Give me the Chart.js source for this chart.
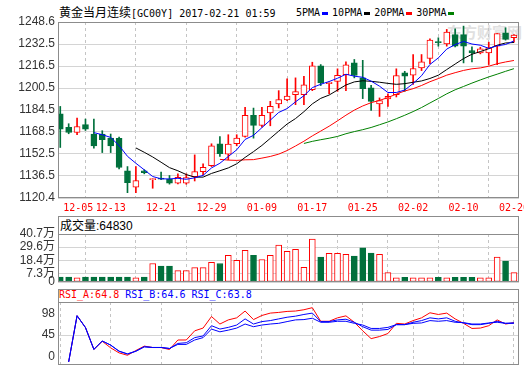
<!DOCTYPE html>
<html>
<head>
<meta charset="utf-8">
<script src="https://cdn.jsdelivr.net/npm/chart.js@4.4.1/dist/chart.umd.min.js"></script>
<style>
  body { margin: 0; background: #fff; }
  #wrap { position: relative; width: 524px; height: 369px; overflow: hidden; font-family: 'DejaVu Sans Mono', monospace; }
  canvas { position: absolute; left: 0; }
  .txt { position: absolute; white-space: nowrap; font-size: 10px; line-height: 14px; color: #000; }
  .cjk { font-family: 'Noto Sans CJK SC', sans-serif; font-size: 12px; }
  .mk { display: inline-block; width: 6px; height: 3px; margin: 0 4px 0 2px; vertical-align: middle; }
  .box { position: absolute; left: 58px; width: 461px; border: 1px solid #8c8c8c; border-bottom: none; box-sizing: border-box; }
  #wm { position: absolute; left: 447px; top: 21px; font: bold 15px 'Noto Sans CJK SC', sans-serif; color: #e0e0e0; }
</style>
</head>
<body>
<div id="wrap">
  <div id="wm">东方财富网</div>
  <div class="txt" style="left:59px;top:5px"><span class="cjk">黄金当月连续</span>[GC00Y] 2017-02-21 01:59</div>
  <div class="txt" style="left:296px;top:6px">5PMA<span class="mk" style="background:#0000ff"></span>10PMA<span class="mk" style="background:#000"></span>20PMA<span class="mk" style="background:#ff0000"></span>30PMA<span class="mk" style="background:#008000"></span></div>

  <div class="box" style="top:216px;height:19px"></div>
  <div class="txt" style="left:60px;top:218px;line-height:14px"><span class="cjk">成交量</span><span style="font:12px 'Liberation Sans',sans-serif">:64830</span></div>

  <div class="box" style="top:289px;height:14px"></div>
  <div class="txt" style="left:59px;top:289px;line-height:12px"><span style="color:#ff0000">RSI_A:64.8</span> <span style="color:#0000ff">RSI_B:64.6</span> <span style="color:#0000ff">RSI_C:63.8</span></div>

  <canvas id="main" width="524" height="214" style="top:14px"></canvas>
  <canvas id="vol" width="524" height="64" style="top:226px"></canvas>
  <canvas id="rsi" width="524" height="75" style="top:294px"></canvas>
</div>

<script>
// trading days shown on the chart
const dates = ['12-05','12-06','12-07','12-08','12-09','12-12','12-13','12-14','12-15','12-16',
  '12-19','12-20','12-21','12-22','12-23','12-26','12-27','12-28','12-29','12-30',
  '01-03','01-04','01-05','01-06','01-09','01-10','01-11','01-12','01-13','01-16',
  '01-17','01-18','01-19','01-20','01-23','01-24','01-25','01-26','01-27','01-30',
  '01-31','02-01','02-02','02-03','02-06','02-07','02-08','02-09','02-10','02-13',
  '02-14','02-15','02-16','02-17','02-20'];

const openP = [1181.8, 1171.8, 1168.1, 1173.8, 1167.0, 1167.0, 1164.0, 1163.8, 1140.2, 1128.2,
  1140.2, 1133.8, 1135.0, 1134.1, 1131.2, 1131.2, 1136.0, 1139.6, 1144.0, 1159.9,
  1152.4, 1159.9, 1165.2, 1180.6, 1173.3, 1182.3, 1188.9, 1191.8, 1195.7, 1195.7,
  1199.3, 1216.6, 1203.7, 1205.4, 1210.3, 1218.8, 1207.9, 1200.6, 1188.9, 1192.5,
  1195.7, 1211.5, 1209.8, 1215.2, 1222.0, 1234.4, 1232.7, 1239.4, 1239.4, 1227.8,
  1226.1, 1226.1, 1231.0, 1240.8, 1237.1];
const highP = [1187.1, 1174.5, 1178.7, 1177.9, 1177.9, 1169.4, 1167.0, 1164.8, 1143.3, 1143.3,
  1141.0, 1134.5, 1139.2, 1136.8, 1138.0, 1138.0, 1151.8, 1145.3, 1159.9, 1165.2,
  1166.5, 1166.5, 1186.4, 1185.9, 1186.4, 1190.8, 1198.6, 1207.2, 1207.9, 1209.1,
  1219.3, 1217.6, 1205.0, 1214.5, 1219.6, 1221.3, 1220.7, 1202.5, 1193.3, 1196.2,
  1214.5, 1212.7, 1224.9, 1224.9, 1236.4, 1237.1, 1243.2, 1243.7, 1245.6, 1230.5,
  1230.2, 1233.9, 1240.2, 1244.4, 1239.5];
const lowP = [1157.2, 1167.2, 1166.5, 1169.6, 1156.7, 1153.5, 1153.5, 1141.5, 1124.3, 1124.3,
  1138.0, 1127.5, 1133.7, 1130.5, 1130.7, 1130.4, 1132.8, 1137.2, 1143.3, 1150.6,
  1148.2, 1158.4, 1164.8, 1164.0, 1172.0, 1173.0, 1186.0, 1191.3, 1188.4, 1188.4,
  1198.6, 1202.3, 1196.4, 1198.1, 1198.6, 1207.9, 1192.8, 1184.2, 1179.8, 1187.1,
  1194.0, 1198.1, 1203.2, 1213.2, 1218.3, 1231.0, 1231.0, 1230.5, 1218.8, 1219.6,
  1225.4, 1217.6, 1217.6, 1235.4, 1233.9];
const closeP = [1170.6, 1168.1, 1172.5, 1170.6, 1158.4, 1162.8, 1158.4, 1142.6, 1131.6, 1133.1,
  1138.9, 1134.1, 1134.1, 1131.2, 1135.5, 1135.2, 1139.6, 1142.8, 1158.4, 1152.6,
  1159.7, 1164.0, 1180.6, 1173.3, 1180.6, 1187.1, 1192.0, 1194.7, 1197.9, 1202.8,
  1216.6, 1204.2, 1204.7, 1209.8, 1217.4, 1209.6, 1200.1, 1190.8, 1191.3, 1194.4,
  1209.6, 1209.1, 1214.7, 1219.6, 1235.4, 1233.5, 1241.2, 1231.0, 1231.0, 1226.1,
  1229.1, 1229.8, 1240.2, 1235.9, 1239.0];

// volume in 万
const volume = [4.1, 4.1, 3.6, 4.1, 4.1, 4.1, 4.1, 4.1, 4.1, 3.6,
  4.1, 15.7, 13.4, 13.4, 9.7, 9.7, 12.2, 12.2, 16.6, 15.7,
  22.6, 18.3, 26.9, 22.6, 19.1, 22.6, 31.2, 26.0, 27.8, 12.5,
  36.4, 21.1, 24.3, 24.3, 23.4, 22.0, 28.9, 24.6, 23.4, 7.9,
  3.6, 3.9, 3.6, 3.6, 3.6, 3.9, 3.6, 3.9, 3.9, 3.9,
  3.6, 3.6, 21.1, 17.7, 8.0];

const rsiA = [null, 2, 76, 57, 22, 35, 24.5, 16.4, 12.6, 20.2,
  27.3, 25, 25, 21.8, 37.1, 37.1, 51.8, 56.2, 74.7, 62.7,
  69.3, 72.6, 83.5, 69.8, 76.4, 80.2, 81.3, 82.9, 83.5, 85.6,
  88.9, 67.1, 67.1, 72.6, 75.8, 65.5, 51.8, 39.3, 42.6, 47.5,
  63.8, 62.7, 68.2, 72.6, 80.7, 78, 80.2, 70.9, 63.8, 55.6,
  56.2, 60, 69.3, 62.7, 64.8];
const rsiB = [null, 2, 76, 57, 22, 35.5, 28.9, 19.1, 14.7, 19.1,
  26.2, 25.1, 25.1, 23.5, 31.6, 32.7, 40.9, 43.6, 60, 54.6,
  57.3, 61.1, 70.9, 62.7, 66.6, 68.2, 70.9, 73.6, 75.3, 78,
  80.2, 66.6, 66.6, 69.3, 70.4, 65.5, 58.4, 52.9, 52.9, 54,
  61.7, 61.7, 65.5, 68.2, 72.6, 70.9, 72.6, 67.1, 64.4, 61.7,
  61.7, 63.8, 67.1, 63.8, 64.6];
const rsiC = [null, 2, 76, 57, 22, 35.5, 28.9, 19.1, 14.7, 19.1,
  26.2, 25.1, 25.1, 23.5, 30, 30, 37.1, 40.9, 54.6, 50.2,
  52.9, 56.2, 62.7, 58.4, 61.1, 62.7, 63.8, 66.6, 69.3, 69.8,
  72, 65.5, 65.5, 67.1, 67.1, 63.8, 61.1, 55.6, 55.6, 57.3,
  61.7, 61.7, 63.8, 64.4, 68.2, 67.1, 68.2, 65.5, 64.9, 62.7,
  62.7, 64.4, 65.5, 63.8, 63.8];

const priceTicks = [1120.4, 1136.5, 1152.5, 1168.5, 1184.5, 1200.5, 1216.5, 1232.5, 1248.6];
const volumeTicks = [0, 7.3, 18.4, 29.6, 40.7];
const maPeriods = [5, 10, 20, 30];
const maColors = ['#0000ff', '#000000', '#ff0000', '#008000'];

const UP = '#ff0000', DOWN = '#00703c';
const isUp = closeP.map((c, i) => c >= openP[i]);

function movingAverage(src, n) {
  return src.map((v, i) => {
    if (i < n - 1) return null;
    let s = 0;
    for (let k = i - n + 1; k <= i; k++) s += src[k];
    return s / n;
  });
}

// border around each plot area
const framePlugin = {
  id: 'frame',
  afterDraw(chart) {
    const { ctx, chartArea: a } = chart;
    ctx.save();
    ctx.strokeStyle = '#8c8c8c';
    ctx.lineWidth = 1;
    ctx.strokeRect(Math.round(a.left) + 0.5, Math.round(a.top) + 0.5,
      Math.round(a.right - a.left) - 1, Math.round(a.bottom - a.top) - 1);
    ctx.restore();
  }
};

const tickFont = { family: "'Liberation Sans', 'Noto Sans CJK SC', sans-serif", size: 12 };

function xAxis(showLabels, height) {
  return {
    type: 'linear', min: -0.27, max: 54.6, offset: false,
    afterBuildTicks: s => { s.ticks = dates.map((d, i) => i).filter(i => i % 6 === 0).map(v => ({ value: v })); },
    afterFit: s => { s.height = height; s.paddingLeft = 0; s.paddingRight = 0; },
    grid: { color: '#c4c4c4', drawTicks: false },
    border: { display: false, dash: [3, 3] },
    ticks: {
      display: showLabels, maxRotation: 0, minRotation: 0, autoSkip: false, padding: 4,
      color: '#ff0000', font: { family: "'DejaVu Sans Mono', monospace", size: 10 },
      callback: v => v === 0 ? '      ' + dates[0] : dates[v]
    }
  };
}

function yTicks(callback) {
  return { padding: 3, color: '#333', font: tickFont, autoSkip: false, callback };
}

function yAxis(extra) {
  return Object.assign({
    afterFit: s => { s.width = 58; s.paddingTop = 0; s.paddingBottom = 0; },
    grid: { color: '#d4d4d4', drawTicks: false },
    border: { display: false }
  }, extra);
}

const common = {
  responsive: false, animation: false, devicePixelRatio: 1, events: [],
  plugins: { legend: { display: false }, tooltip: { enabled: false } }
};

// price panel
const maSets = maPeriods.map((p, k) => ({
  type: 'line', order: 0,
  data: movingAverage(closeP, p).map((v, i) => ({ x: i, y: v })),
  borderColor: maColors[k], borderWidth: 1, pointRadius: 0, fill: false
}));

new Chart(document.getElementById('main').getContext('2d'), {
  type: 'bar',
  data: {
    datasets: [
      {
        order: 2, grouped: false, barThickness: 1, borderWidth: 0,
        data: lowP.map((l, i) => ({ x: i, y: [l, highP[i]] })),
        backgroundColor: isUp.map(u => u ? UP : DOWN)
      },
      {
        order: 1, grouped: false, barThickness: 6, minBarLength: 1,
        borderWidth: 1, borderSkipped: false,
        data: openP.map((o, i) => ({ x: i, y: [o, closeP[i]] })),
        backgroundColor: isUp.map(u => u ? '#ffffff' : DOWN),
        borderColor: isUp.map(u => u ? UP : DOWN)
      },
      ...maSets
    ]
  },
  options: Object.assign({}, common, {
    layout: { padding: { top: 8, right: 5, left: 0, bottom: 0 } },
    scales: {
      x: xAxis(true, 30),
      y: yAxis({
        min: 1120.4, max: 1248.6,
        afterBuildTicks: s => { s.ticks = priceTicks.map(v => ({ value: v })); },
        ticks: yTicks(v => v.toFixed(1))
      })
    }
  }),
  plugins: [framePlugin]
});

// volume panel
new Chart(document.getElementById('vol').getContext('2d'), {
  type: 'bar',
  data: {
    datasets: [{
      barThickness: 6, borderWidth: 1, borderSkipped: false,
      data: volume.map((v, i) => ({ x: i, y: v })),
      backgroundColor: isUp.map(u => u ? '#ffffff' : DOWN),
      borderColor: isUp.map(u => u ? UP : DOWN)
    }]
  },
  options: Object.assign({}, common, {
    layout: { padding: { top: 8, right: 5, left: 0, bottom: 0 } },
    scales: {
      x: xAxis(false, 8),
      y: yAxis({
        min: 0, max: 40.7,
        afterBuildTicks: s => { s.ticks = volumeTicks.map(v => ({ value: v })); },
        ticks: yTicks(v => v === 0 ? '0' : v + '万')
      })
    }
  }),
  plugins: [framePlugin]
});

// RSI panel: labels 98 / 45 / 0 sit inside the panel as in the original
const rsiLabelPos = [10.3, 45, 79.9];
const rsiLabelText = ['0', '45', '98'];
const rsiLine = (arr, color, order) => ({
  order, data: arr.map((v, i) => ({ x: i, y: v })),
  borderColor: color, borderWidth: 1, pointRadius: 0, fill: false
});

new Chart(document.getElementById('rsi').getContext('2d'), {
  type: 'line',
  data: {
    datasets: [
      rsiLine(rsiA, '#ff0000', 3),
      rsiLine(rsiC, '#0000ff', 2),
      rsiLine(rsiB, '#0000ff', 1)
    ]
  },
  options: Object.assign({}, common, {
    layout: { padding: { top: 8, right: 5, left: 0, bottom: 0 } },
    scales: {
      x: xAxis(false, 4),
      y: yAxis({
        min: -3, max: 98,
        afterBuildTicks: s => { s.ticks = rsiLabelPos.map(v => ({ value: v })); },
        grid: { drawTicks: false, color: c => c.tick && c.tick.value === 45 ? '#d4d4d4' : 'rgba(0,0,0,0)' },
        ticks: yTicks((v, i) => rsiLabelText[i])
      })
    }
  }),
  plugins: [framePlugin]
});
</script>
</body>
</html>
